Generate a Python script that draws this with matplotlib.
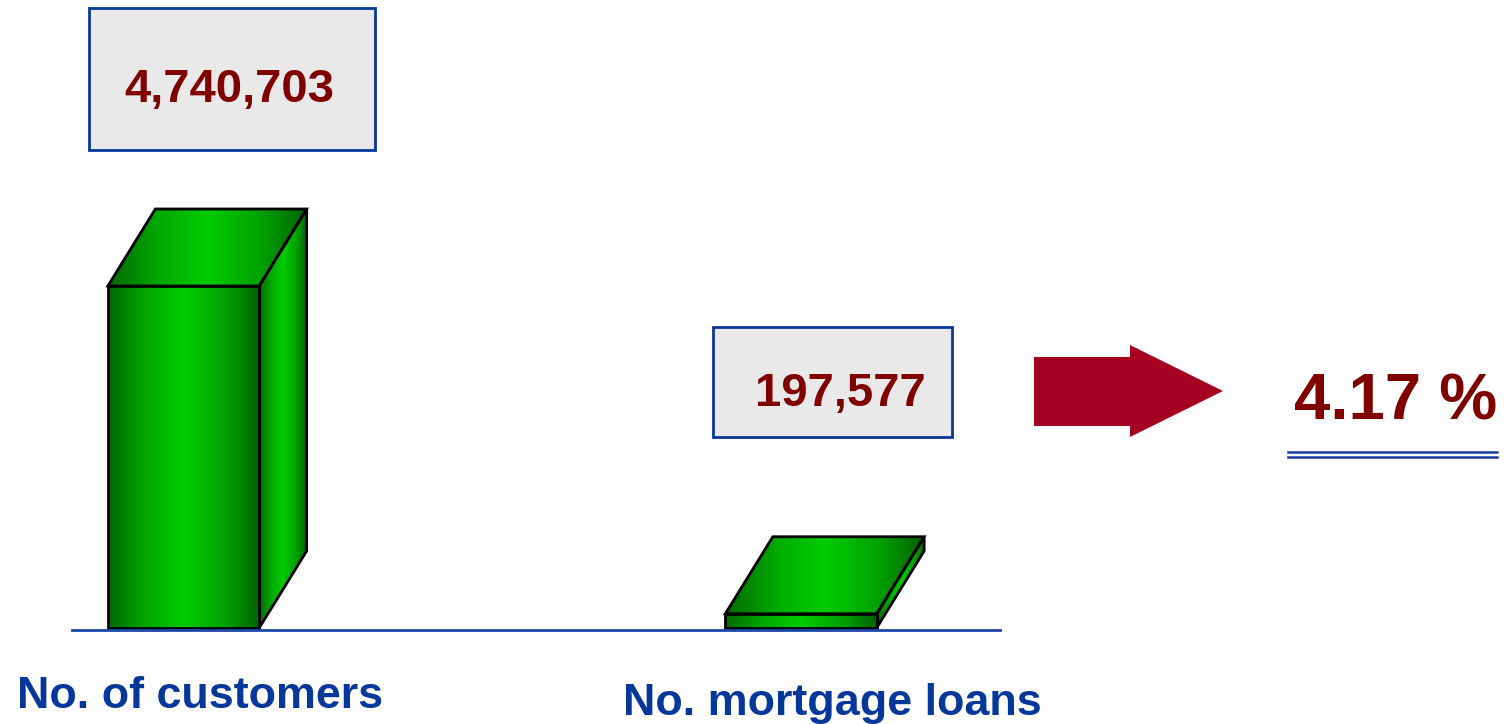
import numpy as np
import matplotlib.pyplot as plt
from matplotlib.patches import Polygon, Rectangle
from matplotlib.lines import Line2D
from matplotlib.colors import LinearSegmentedColormap

categories = ["No. of customers", "No. mortgage loans"]
values = [4740703, 197577]
share = values[1] / values[0] * 100

W, H = 1509, 724
fig = plt.figure(figsize=(W / 100, H / 100), dpi=100)
FONT = ["Liberation Sans", "DejaVu Sans"]
NAVY = "#06389c"
MAROON = "#800000"


def fx(x):
    return x / W


def fy(y):
    return 1 - y / H


# bar area: floor at y=628px, tallest bar 342px high
base_px, top_px, tall_px = 628, 160, 342
ax = fig.add_axes([fx(72), fy(base_px), (1000 - 72) / W, (base_px - top_px) / H])
ax.set_xlim(-0.1806, 1.3223)
ax.set_ylim(0, max(values) * (base_px - top_px) / tall_px)
ax.set_autoscale_on(False)
ax.axis("off")

# depth of the 3d boxes, 47px right and 77px up, in data units
inv = ax.transData.inverted()
o = ax.transData.transform((0, 0))
ddx, ddy = inv.transform(o + np.array([47.5, 77.0]))

green = LinearSegmentedColormap.from_list(
    "green", [(0, "#006800"), (0.25, "#00a800"), (0.5, "#00cc00"),
              (0.78, "#00a000"), (1, "#006200")])
grad = np.linspace(0, 1, 256).reshape(1, -1)


def shaded_face(verts, zorder):
    verts = np.asarray(verts)
    poly = Polygon(verts, closed=True, facecolor="none", edgecolor="black",
                   lw=2.0, zorder=zorder + 0.1, clip_on=False, joinstyle="miter")
    ax.add_patch(poly)
    im = ax.imshow(grad, cmap=green, aspect="auto", interpolation="bilinear",
                   extent=(verts[:, 0].min(), verts[:, 0].max(),
                           verts[:, 1].min(), verts[:, 1].max()),
                   zorder=zorder)
    im.set_clip_path(poly)


bw = 0.245
for i, v in enumerate(values):
    x0, x1 = i - bw / 2, i + bw / 2
    shaded_face([(x1, 0), (x1 + ddx, ddy), (x1 + ddx, v + ddy), (x1, v)], 2)
    shaded_face([(x0, v), (x1, v), (x1 + ddx, v + ddy), (x0 + ddx, v + ddy)], 2)
    shaded_face([(x0, 0), (x1, 0), (x1, v), (x0, v)], 3)

# floor line
fig.add_artist(Line2D([fx(72), fx(1000)], [fy(630), fy(630)], color="#1a47a8", lw=2.0))

# value boxes
boxes = [(89, 8, 375, 150, 229.5, 102), (713, 327, 952, 437, 840, 406)]
for (bx0, by0, bx1, by1, tx, ty), v in zip(boxes, values):
    fig.add_artist(Rectangle((fx(bx0), fy(by1)), (bx1 - bx0) / W, (by1 - by0) / H,
                             facecolor="#e9e9e9", edgecolor=NAVY, lw=2.0))
    fig.text(fx(tx), fy(ty), f"{v:,}", ha="center", va="baseline", fontsize=34,
             fontweight="bold", color=MAROON, family=FONT)

# category labels
for (lx, ly), name in zip([(17, 708), (623, 715)], categories):
    fig.text(fx(lx), fy(ly), name, ha="left", va="baseline", fontsize=32.3,
             fontweight="bold", color=NAVY, family=FONT)

# arrow and ratio
arrow = [(1034, 357), (1130, 357), (1130, 345), (1223, 391),
         (1130, 437), (1130, 426), (1034, 426)]
fig.add_artist(Polygon([(fx(x), fy(y)) for x, y in arrow], closed=True,
                       facecolor="#a50021", edgecolor="none"))
fig.text(fx(1396), fy(419), f"{share:.2f} %", ha="center", va="baseline",
         fontsize=47, fontweight="bold", color=MAROON, family=FONT)
for y in (452, 457):
    fig.add_artist(Line2D([fx(1288), fx(1497)], [fy(y), fy(y)], color="#1a3fa0", lw=1.8))

fig.savefig("out.png", dpi=100)
